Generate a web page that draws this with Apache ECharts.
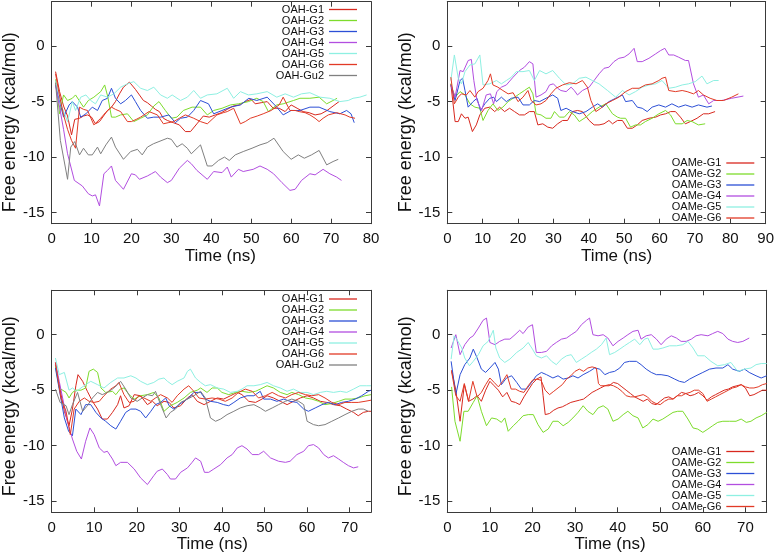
<!DOCTYPE html>
<html>
<head>
<meta charset="utf-8">
<script src="https://cdn.jsdelivr.net/npm/echarts@6/dist/echarts.min.js"></script>
<style>html,body{margin:0;padding:0;background:#fff}#c{width:777px;height:556px}</style>
</head>
<body>
<div id="c"></div>
<script>
// ---------- tick labels ----------
const yTicks = [-15, -10, -5, 0];
const xTicksTop1 = [0, 10, 20, 30, 40, 50, 60, 70, 80];
const xTicksTop2 = [0, 10, 20, 30, 40, 50, 60, 70, 80, 90];
const xTicksBottom = [0, 10, 20, 30, 40, 50, 60, 70];

// ---------- legend names ----------
const namesOAH = ['OAH-G1', 'OAH-G2', 'OAH-G3', 'OAH-G4', 'OAH-G5', 'OAH-G6', 'OAH-Gu2'];
const namesOAMe = ['OAMe-G1', 'OAMe-G2', 'OAMe-G3', 'OAMe-G4', 'OAMe-G5', 'OAMe-G6'];

// ---------- panel 1 (top left, OAH) ----------
const p1G1 = [[1,-2.3],[2,-4.1],[3,-5.4],[4,-6.3],[5,-8],[5.8,-6.6],[7,-6.5],[8,-6.3],[9,-6.2],[10,-6.4],[11,-7],[12,-6.8],[13,-6.3],[14,-5.8],[15,-5.5],[16,-5],[17,-4.3],[18,-3.7],[19.5,-3.25],[21,-3.9],[22,-4.4],[23,-4.9],[24,-5.1],[25,-5.4],[26,-5.7],[27,-5.9],[28,-6.5],[29,-6.7],[30.5,-6.9],[32,-7.1],[33.5,-7.7],[34.8,-7.7],[36.4,-7],[38,-6.3],[39.5,-6.4],[41,-6.2],[42.5,-6],[44,-5.7],[45.5,-5.4],[47,-5.3],[48.5,-5],[50,-4.8],[51,-5.2],[52.5,-5.1],[54,-5],[55.5,-5.6],[57,-5.6],[58.5,-5.9],[60,-5.3],[61.5,-5.6],[63,-5.9],[64.5,-6],[66,-6.2],[67.5,-6.1],[69,-5.8],[70.5,-5.4],[72,-5]];
const p1G2 = [[1,-3],[2,-6.1],[3,-4.4],[4,-4.9],[5.2,-4.7],[6,-4.4],[8,-5.5],[9.2,-4.9],[10.6,-4.6],[12.3,-4.1],[13.3,-3.5],[14.1,-4.6],[15,-6.4],[16,-6.4],[17.3,-6.2],[19,-6.1],[20.6,-6.8],[22.3,-6.5],[24,-6.2],[25.6,-5.4],[26.9,-5],[28.5,-5.8],[30,-6.5],[31.4,-6.4],[33,-5.8],[35.2,-5.5],[37.3,-5.5],[39,-6.2],[40.6,-5.8],[42.7,-5.6],[44.8,-5.3],[46.8,-5.2],[49.3,-5],[51.4,-4.7],[53,-5],[54.3,-5.9],[56.4,-5.3],[58,-5.2],[60.6,-4.9],[62.2,-4.7],[64.7,-4.7],[67,-4.6],[68.9,-5.2],[70.5,-4.9],[71.5,-4.7]];
const p1G3 = [[1,-3.5],[3,-6.4],[4.4,-5.3],[5.2,-5],[6.5,-5.5],[7.3,-6.4],[8.6,-6.1],[10.2,-5.5],[11.5,-5.8],[12.7,-4.9],[14,-4.7],[15,-3.8],[16,-4.7],[17.3,-5.2],[18.5,-4.9],[20,-4.4],[21,-5],[22.3,-5.8],[24,-6.5],[25.6,-6.4],[27.3,-6.4],[29.4,-6.2],[31,-6.9],[32.3,-6.5],[34,-6.4],[35.6,-5.8],[37.3,-4.9],[39.3,-5.2],[40.6,-6.1],[42.7,-5.8],[44.8,-5.5],[47.3,-5.3],[49.4,-4.7],[51.4,-4.9],[54,-4.6],[56.4,-5.5],[58,-6.2],[60,-5.8],[62.2,-5.8],[64.7,-5.5],[67,-5.5],[69.7,-5.9],[72.2,-6.1],[73.9,-5.8],[75,-6.1],[75.8,-6.9]];
const p1G4 = [[1,-3.5],[2,-5.5],[3,-7.5],[4,-9.7],[5.7,-12.1],[7.7,-12.6],[9.2,-13.3],[10.2,-13.5],[11,-13.4],[12,-14.4],[13.1,-11.5],[14,-11.2],[15,-10.8],[16,-12.1],[18,-12.9],[20,-11.5],[21,-11.6],[22,-12],[24,-11.7],[25,-11.5],[26,-11.3],[27.3,-11.8],[29,-12.3],[30,-12.1],[32,-11],[34,-10.3],[35,-10.6],[36.4,-11.2],[39,-12],[40.6,-11.3],[42.7,-11.4],[44,-10.9],[45,-11.8],[46.8,-11.1],[48,-11.3],[50.5,-11.1],[52.2,-10.8],[54,-11.1],[55.6,-11.5],[57.7,-12.3],[59.7,-13],[61,-12.9],[62.6,-12.1],[64.7,-11.5],[66,-11.6],[68,-11.1],[69.7,-11.5],[71.4,-11.8],[72.6,-12.1]];
const p1G5 = [[1,-3.1],[2.3,-5.2],[4,-6.8],[5.2,-5],[6,-5.8],[7.3,-4.6],[8.6,-4.4],[9.8,-4.9],[11,-5.2],[12.3,-4.4],[14,-4.6],[15.6,-4.3],[17.3,-3.7],[19,-3.4],[20.6,-3.2],[22.3,-3.8],[24,-4],[25.6,-3.7],[27.3,-4.4],[29,-4.7],[30.2,-4.4],[32.3,-4.9],[34,-4.6],[35.6,-4],[37.3,-4.7],[39,-4.4],[41.4,-4.3],[44,-3.8],[45.6,-4.7],[47.3,-4.1],[49.3,-4.4],[51.4,-4.3],[54,-4.1],[56.4,-4.6],[58.5,-4.3],[60.6,-4.6],[62.6,-4.3],[64.7,-4.2],[67.2,-4.6],[69.7,-4.7],[72.2,-5],[74.3,-4.9],[75.5,-4.7],[77.2,-4.6],[78.9,-4.4]];
const p1G6 = [[1,-2.5],[2,-4.5],[3,-6.2],[4,-7.5],[5,-8.5],[6,-9.2],[7,-5.5],[8,-5.7],[9,-5.8],[10.6,-7.1],[12.3,-6.5],[13.5,-6],[15,-5.5],[16,-5.7],[17.3,-5.9],[19,-6.8],[20,-6.8],[21.2,-6.6],[22.3,-6.4],[24.4,-5.9],[26.5,-6.2],[28,-7],[29.2,-6.9],[30.6,-6.8],[32,-6.5],[33.5,-6.2],[35.6,-6.5],[37.3,-6.8],[39,-7],[40.2,-6.6],[41.4,-6.2],[43,-6],[44,-5.9],[45.6,-5.6],[47.3,-7],[48.5,-6.8],[49.8,-6.5],[51.5,-6.3],[53,-6.1],[55,-5.8],[57,-5.3],[58,-4.6],[59.7,-5.8],[61,-5.8],[62,-5.9],[63.5,-6],[64.7,-6.2],[66,-6.5],[67,-6.8],[68,-6.5],[69.3,-6.2],[71.4,-6],[73.5,-6.2],[74.7,-6.4],[76,-6.5]];
const p1Gu2 = [[1,-3.3],[2.2,-8.5],[4,-12],[4.8,-9.1],[5.8,-8.6],[7,-9.8],[8,-9.2],[9.2,-9.8],[10.2,-9.8],[11.5,-9.1],[12.3,-9.7],[13.6,-8.9],[15,-8.2],[16,-9.1],[18,-10.2],[19.8,-9.5],[21.5,-9.3],[22.7,-9.8],[24,-9.1],[25.5,-8.8],[26.9,-8.6],[29,-8.3],[30,-8.4],[31.4,-9.1],[32.7,-8.8],[34,-9.2],[35,-9.7],[37.3,-8.9],[39,-10.8],[40.2,-10.8],[41.8,-10.3],[43.3,-10],[44.5,-10.3],[46,-9.8],[48,-9.5],[50.2,-9.2],[52.2,-8.9],[54,-8.7],[55.7,-8.3],[58,-9.5],[60,-10.2],[61.8,-9.8],[63.3,-10.1],[65.1,-9.8],[67,-9.4],[68.9,-10.7],[70.5,-10.4],[71.8,-10.2]];

// ---------- panel 2 (top right, OAMe) ----------
const p2G1 = [[1,-3.4],[2.2,-6.8],[3.1,-6.8],[4,-6.1],[5,-6.5],[5.9,-6.4],[7.1,-7.7],[8.2,-7.1],[9.2,-6.2],[10.6,-5.6],[12,-5.5],[13.4,-5.9],[14.8,-5.5],[16.2,-5.9],[17.6,-5.6],[19,-5.9],[20.4,-6.2],[21.8,-6.2],[23.2,-5.9],[24.6,-5.9],[25.6,-7.1],[27,-7],[28.4,-7.3],[29.8,-7.4],[31.2,-7],[32.6,-6.7],[34,-6.7],[35.4,-5.9],[36.8,-5.8],[38.2,-5.9],[40.1,-6.7],[41.5,-7.1],[42.9,-7.1],[44.3,-7],[45.7,-6.7],[46.7,-7],[48.1,-6.7],[49.5,-6.7],[50.9,-7.4],[52.3,-7.4],[53.7,-7.1],[55.1,-6.7],[57,-6.5],[58.9,-6.4],[60.3,-6.2],[61.7,-6.1],[63.1,-5.9],[64.5,-5.9],[65.9,-6.4],[67.3,-7],[68.7,-6.8],[70.6,-6.5],[72.4,-6.1],[73.9,-6.1],[75.7,-5.9]];
const p2G2 = [[1,-3.4],[2.2,-4.6],[3.6,-4.1],[5,-4.4],[6.4,-5.2],[7.8,-5.5],[9.2,-5.6],[10.1,-6.7],[11.5,-5.8],[12.9,-5.2],[14.3,-5.8],[15.7,-5.5],[17.2,-5],[18.6,-4.7],[20.4,-4.3],[21.8,-4],[23.2,-3.7],[24.2,-4.3],[25.1,-6.1],[26.5,-6.2],[27.9,-6.5],[29.3,-6.5],[30.3,-5.9],[31.7,-6.4],[33.1,-6.4],[34.5,-5.9],[35.9,-6.2],[37.3,-6.8],[39.2,-6.4],[41,-5.9],[42.9,-5.5],[44.8,-5.2],[46.7,-6.1],[48.1,-6.4],[49,-6.5],[50.4,-6.5],[51.8,-7.3],[53.2,-7.1],[54.6,-7.1],[56,-6.8],[57.9,-6.5],[59.8,-6.1],[61.7,-5.8],[63.1,-6.2],[64.5,-7],[66.4,-7],[67.8,-6.7],[69.2,-6.8],[71,-7.1],[72.9,-7]];
const p2G3 = [[1,-3.5],[2.2,-4.9],[3.6,-3.1],[4.3,-2.9],[5,-4],[5.9,-5.5],[7.3,-5],[8.4,-4.7],[9.4,-5.8],[10.6,-5.2],[12,-4.7],[13.1,-4.6],[13.9,-5],[15.3,-4.6],[16.7,-5],[18.1,-4.7],[20,-4.6],[21.4,-5.3],[23.2,-5.3],[24.6,-4.9],[26.1,-5],[27.9,-4.7],[29.8,-4.4],[31.2,-4.7],[32.1,-5.8],[33.6,-5.6],[35.4,-5.9],[37.3,-6.1],[39.2,-5.9],[41,-5.5],[42.5,-5.2],[43.9,-5.5],[45.7,-5],[47.6,-4.7],[49.5,-4.4],[50.4,-5],[52.3,-4.9],[53.7,-5.5],[55.1,-5.6],[56.5,-5.9],[57.9,-5.5],[59.8,-5.3],[61.7,-5.5],[63.5,-5.2],[65.4,-5.5],[67.3,-5.3],[69.2,-5.5],[71,-5.3],[73.4,-5.5],[74.8,-5.4]];
const p2G4 = [[1,-3.5],[2.2,-4.6],[3.6,-2.2],[4.5,-2.3],[5.9,-1.3],[6.8,-1.2],[7.5,-3.1],[8.4,-4.9],[9.7,-5.8],[11,-4.4],[12.2,-4.3],[13.1,-5.2],[14,-4.1],[15.3,-3.7],[16.7,-3.5],[18.6,-2.8],[20.4,-2.2],[21.8,-1.9],[23.2,-1.4],[24.2,-1.6],[25.1,-4.6],[26.5,-4.4],[27.9,-4.1],[28.9,-3.5],[30,-3.4],[31.2,-3.8],[32.1,-4],[33.6,-4.1],[35,-3.7],[35.9,-4],[36.8,-4.4],[38.2,-4],[40.1,-3.7],[41.5,-3.1],[42.9,-2.5],[44.3,-2],[45.7,-1.9],[47.1,-1.4],[48.5,-1.1],[50,-1],[51.4,-0.7],[52.8,-0.2],[53.7,-1.4],[55.1,-1.4],[57,-1.1],[58.9,-0.7],[60.3,-0.4],[61.5,-0.2],[62.6,-0.8],[64,-0.8],[65.4,-1],[67.3,-1.3],[68.2,-1.3],[69.6,-3.4],[71,-4.6],[72.4,-4.4],[73.9,-5.2],[75.3,-4.9],[77.6,-4.9],[80.4,-4.7],[83.7,-4.5]];
const p2G5 = [[1,-3.1],[2,-0.8],[3.1,-2.9],[4,-3.4],[5,-2.3],[6.4,-1.7],[7.8,-1.6],[9.2,-0.8],[10.1,-3.5],[12,-3.4],[13.9,-3.1],[15.3,-3.4],[16.7,-3.1],[18.1,-2.8],[19.5,-2.3],[21.4,-2.3],[23.2,-2.2],[24.6,-3.1],[26.1,-2.2],[27.9,-2.5],[29.8,-2.2],[31.7,-2.9],[33.6,-3.5],[35.4,-3.4],[37.3,-2.9],[39.2,-2.8],[41,-3.1],[42.9,-3.4],[45.3,-4],[47.6,-4.6],[49.5,-4],[51.4,-4.4],[53.2,-4.1],[55.1,-3.7],[57,-3.5],[58.9,-3.4],[60.7,-3.1],[62.6,-3.8],[64.5,-3.7],[66.4,-3.5],[68.2,-3.4],[70.1,-3.2],[72,-2.7],[73.4,-3.4],[75.3,-3.1],[76.7,-3.1]];
const p2G6 = [[1,-2.8],[2,-5.2],[3.1,-4.6],[4,-4.3],[5.4,-4.4],[6.4,-4],[7.8,-4.6],[8.7,-4.1],[10.1,-3.8],[11.5,-3.1],[12.2,-2.5],[12.9,-3.5],[14.3,-3.7],[15.7,-4],[17.2,-4.3],[18.6,-4.2],[20,-5],[21.4,-4.6],[22.8,-4],[23.7,-4.9],[25.1,-5.3],[26.5,-5.2],[27.9,-4.9],[29.3,-4.3],[30.7,-3.8],[32.6,-3.5],[34.5,-3.3],[36.4,-3.4],[38.2,-3.1],[39.6,-3.7],[40.6,-4.9],[42,-5.9],[43.4,-5.6],[44.8,-5.2],[46.7,-4.9],[48.5,-4.6],[50.4,-4.1],[52.3,-3.8],[54.2,-3.8],[56,-3.5],[57.9,-3.4],[59.8,-3.1],[60.7,-2.9],[61.7,-2.8],[62.6,-4],[64.5,-4.1],[66.4,-4],[67.8,-4.1],[69.6,-4.3],[71,-4],[72.4,-4.4],[74.3,-4.7],[76.2,-4.9],[78.1,-4.9],[80.4,-4.6],[82.3,-4.3]];

// ---------- panel 3 (bottom left, OAH) ----------
const p3G1 = [[0.9,-2.7],[3,-6.9],[4.1,-8.2],[4.9,-6.7],[5.7,-4.6],[6.2,-3.6],[7.3,-4.2],[8.4,-5.1],[9.6,-6],[10.8,-6.7],[11.9,-7.6],[13.1,-7.6],[14.3,-7],[15.5,-6.3],[16.2,-5.5],[17,-6.6],[18.2,-6.4],[19.4,-5.4],[20.9,-5.5],[22.5,-6.3],[23.7,-6],[24.8,-6.4],[26.4,-6],[27.6,-6.1],[28.7,-6.6],[30.3,-6.4],[31.9,-5.7],[33,-5.4],[34.2,-6],[35.8,-6.3],[37.3,-6],[38.9,-5.7],[40.4,-5.8],[42,-5.5],[43.6,-5.2],[44.7,-5.4],[46.3,-6],[47.9,-6.1],[49.4,-5.8],[50.6,-5.5],[52.1,-5.7],[53.7,-6],[55.3,-6.3],[56.8,-6],[58.4,-5.7],[60,-5.5],[61.5,-5.7],[63.1,-6],[64.6,-6.1],[66.2,-6.3],[67.8,-6.4],[69.3,-6.7],[70.9,-7],[72,-7.3],[73.2,-7],[74.4,-6.9],[75,-6.9]];
const p3G2 = [[0.9,-2.8],[1.8,-4.8],[3.4,-5.2],[4.1,-5.7],[4.9,-5.2],[5.7,-5],[6.9,-5],[8,-4.8],[8.8,-3.3],[9.8,-3.1],[10.8,-3.4],[11.6,-4.8],[12.7,-5.2],[14.3,-5.1],[15.1,-5.4],[16.1,-4.9],[17,-4.8],[18.2,-5.4],[19.4,-5.8],[20.9,-5.5],[22.5,-5.4],[24,-5.2],[25.2,-5.7],[26.4,-6.9],[27.9,-6.4],[29.5,-6.1],[31.1,-5.7],[32.6,-5.2],[34.2,-5],[35,-4.8],[36.5,-5.2],[37.7,-4.8],[38.9,-4.8],[40,-5.2],[41.6,-5.4],[43.2,-5.2],[44.7,-5.1],[46.3,-5.2],[47.9,-5.1],[49,-4.9],[50.6,-4.6],[52.1,-4.8],[53.7,-5.2],[55.3,-5.4],[56.4,-5.2],[58,-5.4],[59.6,-5.7],[61.1,-5.8],[62.7,-6],[64.2,-6.3],[65.8,-6.2],[67.4,-6],[68.9,-5.8],[70.5,-5.8],[72,-5.7],[73.6,-5.5],[75,-5.4]];
const p3G3 = [[0.9,-3],[3,-7.5],[4,-8.7],[4.9,-9.1],[5.7,-6.7],[6.9,-7.2],[8,-6.3],[9.2,-6.3],[10.4,-7],[11.6,-7.5],[12.7,-7.8],[13.9,-8.2],[15.1,-8.5],[16.2,-7.8],[17.4,-7],[18.6,-6.7],[19.8,-6.7],[20.9,-6.9],[22.1,-7.5],[23.3,-6.9],[24.4,-6.3],[25.6,-6.1],[26.8,-5.7],[27.6,-6.4],[28.7,-6.7],[29.9,-6.3],[31.1,-6],[32.2,-5.7],[33.4,-5.2],[35,-5.2],[36.1,-5.8],[37.3,-6],[38.9,-6.1],[40.4,-6.3],[41.6,-6.4],[42.8,-6.1],[44.3,-5.7],[45.9,-5.5],[47.5,-5.5],[49,-5.1],[49.8,-5.8],[51.4,-5.8],[52.9,-6],[54.5,-5.8],[56,-6],[57.6,-6.1],[59.2,-6.7],[60.3,-6.9],[61.9,-6.6],[63.5,-6.3],[65,-6.1],[66.6,-6.3],[68.1,-6.1],[69.7,-6],[71.3,-5.8],[72.8,-5.5],[74.4,-5.1],[75,-5]];
const p3G4 = [[0.9,-2.5],[1.8,-4.2],[3.7,-7.8],[4.9,-9.4],[5.9,-10.5],[7,-11.2],[8,-9.6],[9,-8.4],[10,-9],[11.2,-10.2],[12.3,-10.6],[13.1,-10.5],[14.3,-11.2],[15.1,-11.8],[16.2,-11.5],[17.8,-11.5],[19.4,-12.1],[20.9,-12.9],[22.5,-13.5],[22.9,-13.5],[24,-12.7],[24.8,-12.3],[26,-12.1],[27.2,-12.6],[27.9,-13],[29.1,-13],[30.3,-12.4],[31.9,-12],[33,-11.5],[33.8,-11.1],[35,-11.4],[35.9,-12.4],[36.9,-12.4],[38.1,-12.1],[39.7,-11.7],[41.2,-11.1],[42.4,-10.8],[43.6,-10.2],[44.7,-10],[45.9,-10.3],[47.1,-10.8],[48.6,-10.8],[49.8,-10.5],[51.4,-11.1],[53.3,-11.4],[54.9,-11.5],[56,-11.4],[57.6,-10.8],[59.2,-10.5],[60.3,-10],[61.5,-9.9],[62.7,-10.2],[63.9,-10.8],[65,-11.1],[66.2,-10.9],[67.4,-11.2],[68.5,-11.5],[69.7,-11.8],[70.9,-12],[72,-11.9]];
const p3G5 = [[0.9,-2.1],[1.8,-3.6],[3,-3.4],[4.1,-5],[4.9,-4.8],[5.9,-5.1],[6.9,-4.8],[8,-4.5],[9.2,-4.2],[10.8,-4.5],[12.3,-4.8],[13.9,-4.3],[15.5,-3.9],[17,-3.9],[18.6,-3.7],[19.8,-3.9],[20.9,-4.2],[22.5,-4.5],[24,-4.3],[25.2,-4],[26.4,-3.9],[27.2,-4.2],[28.3,-4.5],[29.5,-4.2],[31.1,-3.9],[31.9,-3.3],[32.6,-3.1],[33.8,-3.9],[35,-4.3],[36.1,-4.6],[37.3,-4.5],[38.9,-4.8],[40.4,-4.9],[42,-5.2],[43.6,-5.1],[44.7,-4.9],[45.9,-4.6],[47.5,-4.6],[49,-4.5],[50.6,-4.3],[52.1,-4.6],[53.7,-4.8],[55.3,-5.1],[56.8,-4.9],[58.4,-5.2],[60,-5.2],[61.5,-5.4],[63.1,-5.2],[64.6,-5.1],[66.2,-5.2],[67.8,-5.1],[69.3,-5.2],[70.9,-4.9],[72.4,-4.6],[74,-4.6],[75,-4.6]];
const p3G6 = [[0.9,-2.5],[2.2,-5.7],[3.4,-6.9],[4.4,-9],[5.3,-6.7],[6.5,-6],[7.7,-5.7],[8.8,-6],[10,-6.1],[11.2,-6],[12.3,-5.5],[13.9,-4.9],[15.1,-4.6],[15.8,-4.3],[17,-5.4],[18.2,-6.1],[19.4,-6],[20.5,-5.5],[21.7,-5.7],[23.3,-6],[24.4,-5.7],[25.6,-5.4],[27.2,-5.7],[28.3,-6.1],[29.5,-5.5],[31.1,-4.9],[32.2,-4.6],[33.4,-5.1],[34.6,-5.7],[36.1,-5.8],[37.7,-5.7],[39.3,-5.8],[40.8,-6],[42.4,-5.7],[43.9,-5.2],[45.5,-4.9],[47.1,-5.1],[48.6,-5.7],[50.2,-5.5],[51.8,-5.2],[53.3,-5.5],[54.9,-5.7],[56.4,-5.4],[58,-5.2],[59.6,-5.4],[61.1,-5.5],[62.7,-5.4],[64.2,-5.7],[65.8,-6.1],[67.4,-6.3],[68.9,-6.1],[70.5,-6.1],[72,-6.1],[73.6,-6],[75,-5.9]];
const p3Gu2 = [[0.9,-4.9],[2,-6.1],[3.4,-6.4],[4.1,-7.2],[4.9,-6.3],[6.1,-5.2],[7.3,-6.9],[8.4,-6.4],[9.6,-5.7],[10.8,-5.2],[11.9,-5.4],[13.1,-5.2],[14.3,-4.9],[15.5,-4.5],[16.2,-4.2],[17.4,-4.9],[18.6,-5.7],[20.1,-6],[21.3,-5.7],[22.5,-5.4],[23.7,-5.5],[24.4,-5.1],[25.6,-6.3],[26.9,-7.5],[27.9,-7],[29.1,-6.7],[30.3,-6.1],[31.9,-5.8],[33.4,-5.5],[35,-5.1],[36.1,-5.7],[37.3,-7.5],[38.5,-7.8],[39.7,-7.6],[41.2,-7.2],[42.8,-6.9],[44.3,-6.6],[45.9,-6.4],[47.5,-6.3],[49,-6.6],[50.2,-6.9],[51.8,-6.6],[53.3,-6.3],[54.9,-6],[56.4,-5.8],[58,-6],[59.2,-6.3],[60,-7.8],[61.5,-8.1],[62.7,-8.2],[64.2,-8.1],[65.8,-7.8],[67.4,-7.5],[68.9,-7.2],[70.5,-6.9],[72,-6.7],[73.2,-6.7],[74.4,-6.9]];

// ---------- panel 4 (bottom right, OAMe) ----------
const p4G1 = [[1,-3.2],[2,-5],[3,-7.8],[4,-4.5],[5,-6],[6,-5.8],[7,-5.5],[8,-6],[9,-5],[10,-4.2],[11,-4.6],[12,-5],[13,-5.6],[14,-5.2],[15,-6],[16,-6.1],[17,-6.3],[18,-5.6],[19,-5],[20,-4.4],[21,-4],[22,-3.8],[22.5,-5.5],[23,-7.2],[24,-7.1],[25,-6.8],[26,-6.6],[27,-6.5],[28,-6.3],[29,-6.1],[30,-6],[31,-5.9],[32,-5.8],[33,-5.5],[34,-5.2],[35,-5],[36,-4.8],[37,-4.6],[38,-4.6],[39,-4.3],[40,-4.4],[41,-4.7],[42,-5],[43,-5.3],[44,-5.6],[45,-5.8],[46,-6],[47,-5.8],[48,-6.2],[49,-6.3],[50,-6],[51,-5.7],[52,-5.6],[53,-5.8],[54,-5.5],[55,-5.2],[56,-5.3],[57,-5.5],[58,-5.4],[59,-5.2],[60,-5.5],[61,-5.9],[62,-5.6],[63,-5.4],[64,-5.2],[65,-5],[66,-4.9],[67,-4.7],[68,-4.6],[69,-4.5],[70,-4.8],[71,-5.5],[72,-5.4],[73,-5.2],[74,-5],[75,-5]];
const p4G2 = [[1,-4.7],[1.8,-7.8],[3,-9.6],[3.9,-6.9],[4.9,-6.9],[6.1,-6.1],[7,-5.5],[8,-6.9],[9.2,-8.2],[10.4,-7.5],[11.6,-7.6],[12.7,-7.9],[13.5,-7.5],[14.3,-8.7],[15.5,-8.2],[16.6,-7.8],[17.8,-7.3],[19,-7.2],[20.2,-7.2],[21.3,-8.1],[22.5,-8.8],[23.7,-8.5],[24.8,-7.8],[26,-7.8],[27.2,-8.2],[28.4,-7.9],[29.5,-7.5],[30.7,-7],[31.9,-6.4],[33,-6.9],[34.2,-7.2],[35.4,-6.6],[36.6,-6.4],[37.7,-6.7],[38.9,-7.8],[40.1,-7.6],[41.3,-7.2],[42.4,-6.9],[43.6,-7.3],[44.8,-7.5],[45.9,-8.4],[47.1,-8.1],[48.3,-7.6],[49.5,-7.8],[50.6,-7.6],[51.8,-7.3],[53,-7],[54.1,-6.9],[55.3,-6.9],[56.5,-7.6],[57.7,-8.4],[58.8,-8.5],[60,-8.8],[61.2,-8.5],[62.3,-8.2],[63.5,-7.9],[64.7,-7.8],[66.3,-7.8],[67.8,-7.8],[69,-7.6],[70.2,-7.9],[71.3,-7.8],[72.5,-7.5],[73.7,-7.3],[75,-7]];
const p4G3 = [[0.9,-2.4],[2,-5.4],[3,-3.6],[4.1,-2.7],[5.3,-2.1],[6.1,-1.3],[7,-2.1],[8,-3.1],[9,-3.4],[10,-3],[11.2,-2.5],[12,-3.1],[12.7,-4.5],[13.9,-3.9],[15.1,-3.7],[16.3,-4.3],[17.4,-4.9],[18.6,-4.9],[19.8,-4.3],[20.9,-3.7],[22.1,-3.4],[23.3,-3.6],[24.8,-3.9],[26,-3.7],[27.2,-4],[28.4,-3.9],[29.5,-3.7],[30.7,-3.9],[31.9,-3.6],[33.4,-3.3],[34.6,-3],[35.8,-3.1],[37,-3.6],[38.1,-3.4],[39.3,-3.3],[40.5,-3],[41.6,-2.5],[42.8,-2.4],[44.4,-2.4],[45.5,-2.7],[46.7,-3.1],[47.9,-3.4],[49.1,-3.6],[50.2,-3.6],[51.8,-3.7],[53.4,-4],[54.5,-4.2],[55.7,-4.3],[56.9,-4],[58.4,-3.7],[60,-3.4],[61.6,-3.1],[63.1,-3],[64.7,-3],[65.9,-2.7],[67,-3.1],[68.6,-3.3],[69.8,-3.1],[70.9,-3.4],[72.5,-3.7],[73.7,-3.9],[75,-3.7]];
const p4G4 = [[0.9,-1.2],[2,0],[3,-1.8],[4.1,-0.9],[5.3,-0.3],[6.1,-0.1],[7.3,0.6],[8.4,1.3],[9.2,1.5],[10,-0.7],[11.2,-0.9],[12.3,-0.6],[13.5,-0.4],[14.7,-0.4],[15.9,0],[17,0.4],[17.8,0.1],[19,0.7],[20,0.9],[20.9,-1.6],[22.1,-1.6],[23.3,-1.5],[24.5,-1],[25.6,-0.7],[26.8,-0.4],[28,-0.3],[29.1,0],[30.3,0.3],[31.5,0.9],[32.7,1.3],[33.4,1.5],[34.2,0],[35.4,-0.1],[36.6,0],[37.7,-0.3],[38.9,-1],[40.1,-0.6],[41.3,-0.3],[42.4,0],[43.6,0.3],[44.8,0.4],[45.5,-0.4],[46.7,-0.1],[47.9,0],[49.1,-0.4],[50.2,-0.9],[51.4,-0.4],[52.6,-0.1],[53.8,-0.3],[54.9,-0.6],[56.1,-0.6],[57.3,-0.4],[58.4,-0.1],[59.6,0],[61.2,-0.1],[62.3,0.1],[63.5,0.3],[64.7,0.1],[65.9,-0.4],[67,-0.6],[68.2,-0.7],[69.4,-0.6],[70.9,-0.3]];
const p4G5 = [[0.9,-2.2],[1.6,-0.1],[2.2,-0.4],[3.4,-1.2],[4.1,-2.1],[5.2,-2.8],[6.1,-2.4],[7.3,-1.8],[8.4,-1],[9.6,-0.6],[10.8,0.4],[11.4,-1.2],[12.3,-2.1],[13.5,-2.5],[14.7,-2.2],[16.3,-1.6],[17.8,-1.2],[19,-0.7],[20,-1.3],[20.9,-1.9],[22.1,-2.1],[23.3,-1.9],[24.5,-2.4],[25.6,-2.7],[26.8,-2.2],[28,-1.9],[29.1,-1.8],[30.3,-2.5],[31.5,-2.2],[32.7,-1.9],[33.8,-1.6],[35,-1.3],[36.2,-0.9],[37.3,-0.3],[38.1,-1.8],[39.3,-1.6],[40.5,-1.3],[41.6,-1],[42.8,-0.7],[44,-0.4],[45.2,-0.9],[46.3,-0.4],[47.1,-0.3],[48.3,-1.3],[49.5,-1.3],[50.6,-1.2],[52.2,-1],[53.8,-1],[55.3,-0.9],[56.5,-0.6],[57.7,-1.2],[58.8,-1.9],[60.4,-1.9],[61.9,-2.4],[63.5,-2.8],[65.1,-2.7],[66.6,-2.5],[68.2,-3.3],[69.8,-3.1],[71.3,-3],[72.5,-2.7],[73.7,-2.6],[75,-2.6]];
const p4G6 = [[1,-3.3],[2,-5.5],[3,-6],[4,-4.4],[5,-6],[6,-4.2],[7,-5.6],[8,-5.2],[9,-4.5],[10,-3.9],[11,-4.3],[12,-4.7],[13,-4.2],[14,-3.6],[15,-4.9],[16,-4.9],[17,-5.1],[18,-5.2],[19,-4.6],[20,-4.1],[21,-4],[22,-4.1],[23,-5],[24,-5.4],[25,-5.1],[26,-4.8],[27,-4.5],[28,-4],[29,-3.7],[30,-3.3],[31,-3.1],[32,-3.3],[33,-3],[34,-2.9],[35,-3],[35.5,-4.4],[36,-4.6],[37,-4.6],[38,-4.5],[39,-4.6],[40,-4.8],[41,-5.1],[42,-5.5],[43,-5.6],[44,-5.6],[45,-5.5],[46,-5.4],[47,-5.6],[48,-6],[49,-6.2],[50,-6.3],[51,-6],[52,-5.8],[53,-5.8],[54,-5.5],[55,-5.5],[56,-5.3],[57,-5.2],[58,-5],[59,-5],[60,-5.3],[61,-6],[62,-5.8],[63,-5.6],[64,-5.4],[65,-5.2],[66,-5],[67,-4.8],[68,-4.7],[69,-4.5],[70,-4.7],[71,-4.8],[72,-4.8],[73,-4.7],[74,-4.5],[75,-4.4]];

// ---------- styling ----------
const colors = {G1:'#d8281e', G2:'#7ddc2c', G3:'#2c4fd6', G4:'#b24ee0', G5:'#8ef0e2', G6:'#e23a26', Gu2:'#808080'};
const FONT = 'Liberation Sans, Arial, Helvetica, sans-serif';
const AXC = '#3a3a3a';

const grids = [
  {left: 50.7, top: 1.7, width: 320.3, height: 222},
  {left: 447.3, top: 1.7, width: 320, height: 222},
  {left: 51, top: 290.3, width: 320, height: 222},
  {left: 447.3, top: 290.3, width: 319.4, height: 222}
];
const xMax = [80, 90, 75, 75];
const xTickSets = [xTicksTop1, xTicksTop2, xTicksBottom, xTicksBottom];
const xNamePad = [[0,0,0,18],[0,0,0,20],[0,0,0,2],[0,0,0,6]];
const yNamePad = [[0,19,0,0],[0,19,0,0],[0,10,0,0],[0,10,0,0]];

const xAxes = [], yAxes = [];
for (let i = 0; i < 4; i++) {
  xAxes.push({
    type: 'value', gridIndex: i, min: 0, max: xMax[i], position: 'bottom',
    name: 'Time (ns)', nameLocation: 'middle', nameGap: 24,
    nameTextStyle: {fontSize: 17, fontFamily: FONT, color: '#111', padding: xNamePad[i]},
    axisLine: {show: true, onZero: false, lineStyle: {color: AXC, width: 1}},
    axisTick: {show: true, inside: true, length: 5, customValues: xTickSets[i], lineStyle: {color: AXC}},
    axisLabel: {show: true, customValues: xTickSets[i], fontSize: 15, fontFamily: FONT, color: '#111', margin: 8},
    splitLine: {show: false}
  });
  yAxes.push({
    type: 'value', gridIndex: i, min: -16, max: 4, position: 'left',
    name: 'Free energy (kcal/mol)', nameLocation: 'middle', nameGap: 30,
    nameTextStyle: {fontSize: 18, fontFamily: FONT, color: '#111', padding: yNamePad[i]},
    axisLine: {show: true, onZero: false, lineStyle: {color: AXC, width: 1}},
    axisTick: {show: true, inside: true, length: 5, customValues: yTicks, lineStyle: {color: AXC}},
    axisLabel: {show: true, customValues: yTicks, fontSize: 15, fontFamily: FONT, color: '#111', margin: 7},
    splitLine: {show: false}
  });
}
for (let i = 0; i < 4; i++) {
  xAxes.push({
    type: 'value', gridIndex: i, min: 0, max: xMax[i], position: 'top',
    axisLine: {show: true, onZero: false, lineStyle: {color: AXC, width: 1}},
    axisTick: {show: true, inside: true, length: 5, customValues: xTickSets[i], lineStyle: {color: AXC}},
    axisLabel: {show: false}, splitLine: {show: false}
  });
  yAxes.push({
    type: 'value', gridIndex: i, min: -16, max: 4, position: 'right',
    axisLine: {show: true, onZero: false, lineStyle: {color: AXC, width: 1}},
    axisTick: {show: true, inside: true, length: 5, customValues: yTicks, lineStyle: {color: AXC}},
    axisLabel: {show: false}, splitLine: {show: false}
  });
}

function mk(name, key, data, idx) {
  return {
    name: name, type: 'line', xAxisIndex: idx, yAxisIndex: idx, data: data,
    symbol: 'none', showSymbol: false, animation: false,
    lineStyle: {color: colors[key], width: 1},
    itemStyle: {color: colors[key]}
  };
}

const series = [
  mk('OAH-G1','G1',p1G1,0), mk('OAH-G2','G2',p1G2,0), mk('OAH-G3','G3',p1G3,0), mk('OAH-G4','G4',p1G4,0),
  mk('OAH-G5','G5',p1G5,0), mk('OAH-G6','G6',p1G6,0), mk('OAH-Gu2','Gu2',p1Gu2,0),
  mk('OAMe-G1','G1',p2G1,1), mk('OAMe-G2','G2',p2G2,1), mk('OAMe-G3','G3',p2G3,1), mk('OAMe-G4','G4',p2G4,1),
  mk('OAMe-G5','G5',p2G5,1), mk('OAMe-G6','G6',p2G6,1),
  mk('OAH-G1','G1',p3G1,2), mk('OAH-G2','G2',p3G2,2), mk('OAH-G3','G3',p3G3,2), mk('OAH-G4','G4',p3G4,2),
  mk('OAH-G5','G5',p3G5,2), mk('OAH-G6','G6',p3G6,2), mk('OAH-Gu2','Gu2',p3Gu2,2),
  mk('OAMe-G1','G1',p4G1,3), mk('OAMe-G2','G2',p4G2,3), mk('OAMe-G3','G3',p4G3,3), mk('OAMe-G4','G4',p4G4,3),
  mk('OAMe-G5','G5',p4G5,3), mk('OAMe-G6','G6',p4G6,3)
];

function legend(names, top, right, lh) {
  return {
    orient: 'vertical', top: top, right: right, align: 'right',
    icon: 'rect', itemWidth: 28, itemHeight: 1.3, itemGap: 0, padding: 0,
    data: names, selectedMode: false,
    textStyle: {fontSize: 11, fontFamily: FONT, color: '#111', lineHeight: lh, padding: 0}
  };
}

const chart = echarts.init(document.getElementById('c'), null, {renderer: 'canvas'});
chart.setOption({
  backgroundColor: '#fff',
  animation: false,
  grid: grids,
  xAxis: xAxes,
  yAxis: yAxes,
  legend: [
    legend(namesOAH, 4, 420, 10.8),
    legend(namesOAMe, 157.5, 22.7, 10.5),
    legend(namesOAH, 293.5, 420, 10.8),
    legend(namesOAMe, 446, 22.7, 10.5)
  ],
  series: series
});
</script>
</body>
</html>
